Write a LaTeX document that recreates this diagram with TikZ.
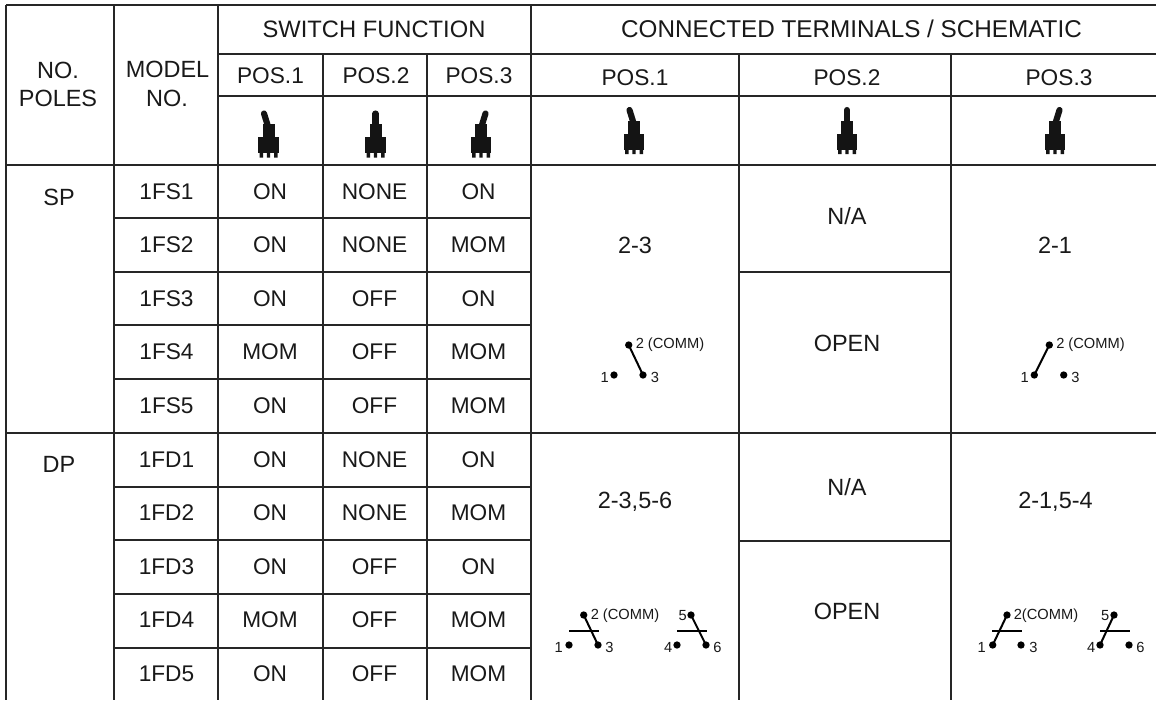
\documentclass[tikz,border=0pt]{standalone}
\usepackage{fontspec}
\setmainfont{Liberation Sans}
\tikzset{
  x=0.75pt,y=-0.75pt,
  grid/.style={draw=black!85,line width=1.5pt},
  lab/.style={inner sep=0,anchor=center,font=\fontsize{17.6}{19}\selectfont,text=black!90},
  cell/.style={inner sep=0,anchor=center,font=\fontsize{17}{19}\selectfont,text=black!90},
  small/.style={inner sep=0,anchor=center,font=\fontsize{11}{12}\selectfont,text=black!90},
  term/.style={circle,fill=black,inner sep=0,minimum size=5.5pt},
  blade/.style={draw=black,line width=1.5pt},
  bar/.style={draw=black,line width=1.5pt},
  tog/.style={fill=black!92,draw=none}
}
\newcommand{\toggle}[3]{% center x, lean, y shift
  \begin{scope}[shift={(#1,#3)}]
    \fill[tog] (-10.3,137) rectangle (10.3,153);
    \fill[tog] (-6,124) rectangle (6,137);
    \fill[tog] (-9,153) rectangle (-5.5,157.5) (-1.7,153) rectangle (1.7,157.5) (5.5,153) rectangle (9,157.5);
    \draw[black!92,line width=4.6pt,line cap=round] (0,128) -- (#2,113.5);
  \end{scope}}
\begin{document}
\begin{tikzpicture}
\useasboundingbox (0,0) rectangle (1156,700);
\fill[white] (0,0) rectangle (1156,700);
% grid
\draw[grid] (6,5) -- (1156,5);
\foreach \xx in {6,114,218,531} \draw[grid] (\xx,5) -- (\xx,700);
\foreach \xx in {323,426.5,739,951} \draw[grid] (\xx,53.5) -- (\xx,700);
\draw[grid] (218,53.5) -- (1156,53.5);
\draw[grid] (218,96) -- (1156,96);
\draw[grid] (6,165) -- (1156,165);
\draw[grid] (6,432.7) -- (1156,432.7);
\foreach \yy in {218,271.5,325,378.7,486.7,540.3,594.3,648.3} \draw[grid] (114,\yy) -- (531,\yy);
\draw[grid] (739,271.5) -- (951,271.5);
\draw[grid] (739,540.8) -- (951,540.8);
% headers
\node[lab] (h1) at (58,70) {NO.};
\node[lab] (h2) at (58,98) {POLES};
\node[lab] (h3) at (167.5,69.5) {MODEL};
\node[lab] (h4) at (167,98) {NO.};
\node[lab,font=\fontsize{17.8}{19}\selectfont] (sf) at (374,29.5) {SWITCH FUNCTION};
\node[lab,font=\fontsize{18.2}{19}\selectfont] (ct) at (851.5,29) {CONNECTED TERMINALS / SCHEMATIC};
\foreach \nm/\xx/\yy/\tt in {a/270.5/76/POS.1,b/376/76/POS.2,c/479/76/POS.3,d/635/77.5/POS.1,e/847/77.5/POS.2,f/1059/77.5/POS.3}
  \node[cell] (p\nm) at (\xx,\yy) {\tt};
% toggles
\toggle{268.5}{-4.5}{0}
\toggle{375.5}{0}{0}
\toggle{481}{4.5}{0}
\toggle{634}{-4.5}{-3.5}
\toggle{847}{0}{-3.5}
\toggle{1055}{4.5}{-3.5}
% first columns
\node[lab] (sp) at (59,197) {SP};
\node[lab] (dp) at (59,464) {DP};
\foreach \yy/\mm/\aa/\bb/\cc in {
 192/1FS1/ON/NONE/ON,245/1FS2/ON/NONE/MOM,299/1FS3/ON/OFF/ON,352/1FS4/MOM/OFF/MOM,406/1FS5/ON/OFF/MOM,
 460/1FD1/ON/NONE/ON,513/1FD2/ON/NONE/MOM,567/1FD3/ON/OFF/ON,620/1FD4/MOM/OFF/MOM,674/1FD5/ON/OFF/MOM}{
  \node[cell] at (166.5,\yy) {\mm};
  \node[cell] at (270,\yy) {\aa};
  \node[cell] at (374.5,\yy) {\bb};
  \node[cell] at (478.5,\yy) {\cc};
}
\node[lab] (c1) at (635,245) {2-3};
\node[lab] (c2) at (1055,245) {2-1};
\node[lab] (c3) at (847,216) {N/A};
\node[lab] (c4) at (847,343) {OPEN};
\node[lab] (c5) at (635,502) {2-3,5-6};
\node[lab] (c6) at (1055.5,502) {2-1,5-4};
\node[lab] (c7) at (847,487) {N/A};
\node[lab] (c8) at (847,611) {OPEN};
% SP schematic pos 1
\node[term] (a2) at (628.7,345) {};
\node[term] (a1) at (614,375) {};
\node[term] (a3) at (643,375) {};
\draw[blade] (a2.center) -- (a3.center);
\node[small,anchor=west] at (635.5,345) {2 (COMM)};
\node[small,anchor=east] at (609,377) {1};
\node[small,anchor=west] at (650.5,377) {3};
% SP schematic pos 3
\node[term] (b2) at (1049.3,345) {};
\node[term] (b1) at (1034.3,375) {};
\node[term] (b3) at (1063.7,375) {};
\draw[blade] (b2.center) -- (b1.center);
\node[small,anchor=west] at (1056,345) {2 (COMM)};
\node[small,anchor=east] at (1029,377) {1};
\node[small,anchor=west] at (1071,377) {3};
% DP schematic pos 1
\node[term] (d2) at (583.7,615) {};
\node[term] (d1) at (569,645) {};
\node[term] (d3) at (598,645) {};
\node[term] (d5) at (691,615) {};
\node[term] (d4) at (677,645) {};
\node[term] (d6) at (706,645) {};
\draw[blade] (d2.center) -- (d3.center);
\draw[blade] (d5.center) -- (d6.center);
\coordinate (db1) at (569,631); \coordinate (db2) at (598.5,631);
\coordinate (db3) at (677,631); \coordinate (db4) at (707,631);
\draw[bar] (db1) -- (db2);
\draw[bar] (db3) -- (db4);
\node[small,anchor=west] at (590.5,616) {2 (COMM)};
\node[small,anchor=east] at (563,647) {1};
\node[small,anchor=west] at (605,647) {3};
\node[small,anchor=east] at (687,616) {5};
\node[small,anchor=east] at (672.5,647) {4};
\node[small,anchor=west] at (713,647) {6};
% DP schematic pos 3
\node[term] (e2) at (1007,615) {};
\node[term] (e1) at (992.7,645) {};
\node[term] (e3) at (1021,645) {};
\node[term] (e5) at (1114,615) {};
\node[term] (e4) at (1100,645) {};
\node[term] (e6) at (1129,645) {};
\draw[blade] (e2.center) -- (e1.center);
\draw[blade] (e5.center) -- (e4.center);
\coordinate (eb1) at (992,631); \coordinate (eb2) at (1022,631);
\coordinate (eb3) at (1100,631); \coordinate (eb4) at (1130,631);
\draw[bar] (eb1) -- (eb2);
\draw[bar] (eb3) -- (eb4);
\node[small,anchor=west] at (1013.5,616) {2(COMM)};
\node[small,anchor=east] at (986,647) {1};
\node[small,anchor=west] at (1029,647) {3};
\node[small,anchor=east] at (1109.5,616) {5};
\node[small,anchor=east] at (1095.5,647) {4};
\node[small,anchor=west] at (1136,647) {6};
\end{tikzpicture}
\end{document}
